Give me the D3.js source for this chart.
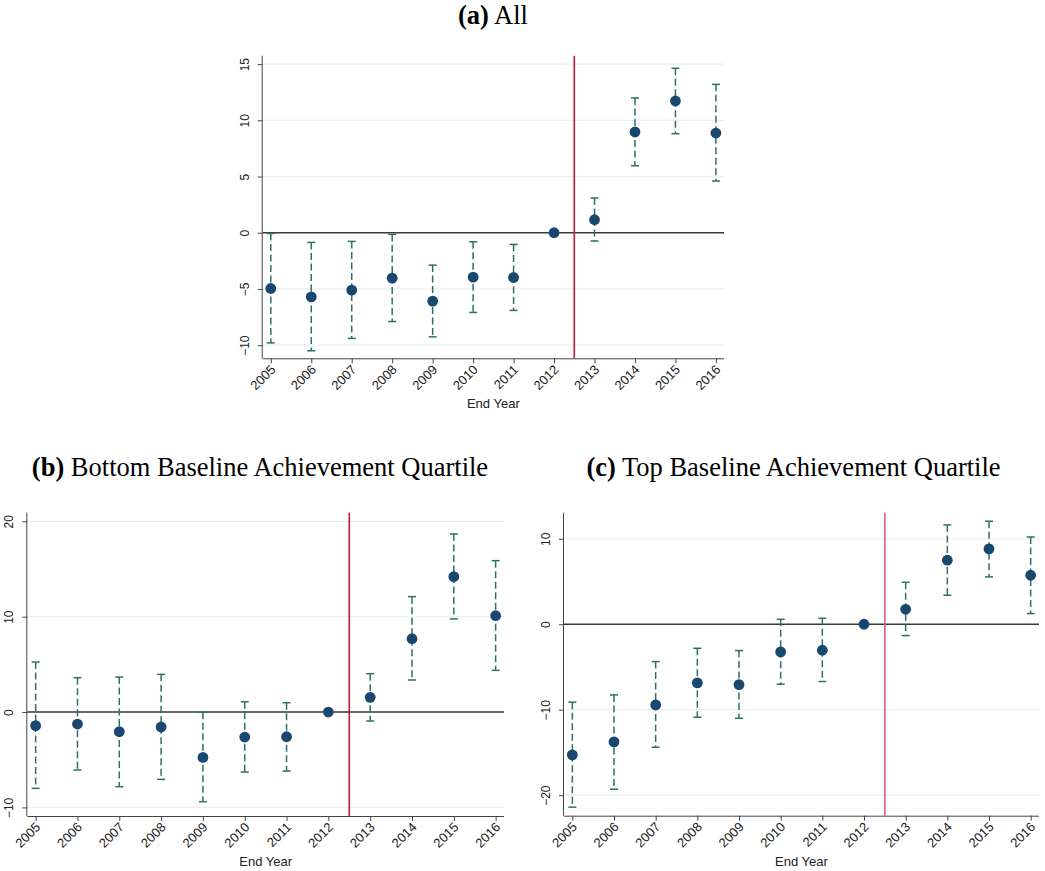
<!DOCTYPE html>
<html lang="en">
<head>
<meta charset="utf-8">
<title>Event study by end year</title>
<script src="https://d3js.org/d3.v7.min.js"></script>
<style>
	body { margin: 0; background: #fff; }
	svg { display: block; }
	.tick text { font-family: "Liberation Sans", Arial, sans-serif; font-size: 12px; fill: #222; }
	.x-ax .tick text { font-size: 13px; }
	.title { font-family: "Liberation Serif", "Times New Roman", serif; font-size: 26.5px; fill: #000; }
	.xlab { font-family: "Liberation Sans", Arial, sans-serif; font-size: 13px; fill: #222; }
</style>
</head>
<body>
<svg id="chart" width="1045" height="871"></svg>
<script>
	// end years on the x axis, 2012 is the omitted reference year
	var years = [2005, 2006, 2007, 2008, 2009, 2010, 2011, 2012, 2013, 2014, 2015, 2016];

	// (a) All
	var allCoef = [-4.96, -5.70, -5.10, -4.04, -6.08, -3.95, -3.98, 0, 1.16, 8.96, 11.72, 8.87];
	var allLow  = [-9.80, -10.50, -9.40, -7.90, -9.26, -7.09, -6.91, null, -0.74, 5.96, 8.81, 4.60];
	var allHigh = [-0.06, -0.86, -0.77, -0.15, -2.88, -0.80, -1.04, null, 3.09, 11.99, 14.63, 13.20];

	// (b) Bottom baseline achievement quartile
	var botCoef = [-1.43, -1.26, -2.06, -1.57, -4.76, -2.62, -2.59, 0, 1.54, 7.69, 14.20, 10.10];
	var botLow  = [-8.00, -6.08, -7.83, -7.06, -9.40, -6.29, -6.19, null, -0.94, 3.36, 9.76, 4.37];
	var botHigh = [5.24, 3.60, 3.67, 3.95, -0.03, 1.08, 0.98, null, 4.02, 12.10, 18.67, 15.87];

	// (c) Top baseline achievement quartile
	var topCoef = [-15.28, -13.76, -9.43, -6.86, -7.06, -3.24, -3.04, 0, 1.75, 7.49, 8.81, 5.73];
	var topLow  = [-21.40, -19.30, -14.39, -10.88, -11.00, -7.02, -6.70, null, -1.33, 3.39, 5.54, 1.25];
	var topHigh = [-9.12, -8.27, -4.37, -2.81, -3.08, 0.58, 0.70, null, 4.91, 11.62, 12.05, 10.21];

	var allTicks = [-10, -5, 0, 5, 10, 15];
	var botTicks = [-10, 0, 10, 20];
	var topTicks = [-20, -10, 0, 10];

	var treatLine = 2012.5;

	function rows(coef, low, high) {
		return years.map((y, i) => ({year: y, b: coef[i], lo: low[i], hi: high[i]}));
	}

	var panels = [
		{tag: "(a)", name: " All", data: rows(allCoef, allLow, allHigh), ticks: allTicks,
			yDom: [-11.17, 15.75], box: {l: 262.7, r: 724, t: 55.7, b: 358.3}, titleX: 493, titleY: 24, redCol: "#c8173f"},
		{tag: "(b)", name: " Bottom Baseline Achievement Quartile", data: rows(botCoef, botLow, botHigh), ticks: botTicks,
			yDom: [-10.9, 20.9], box: {l: 27.3, r: 504, t: 512.7, b: 816}, titleX: 260, titleY: 476, redCol: "#c8173f"},
		{tag: "(c)", name: " Top Baseline Achievement Quartile", data: rows(topCoef, topLow, topHigh), ticks: topTicks,
			yDom: [-22.4, 13.05], box: {l: 564, r: 1039, t: 512.7, b: 815.7}, titleX: 793.5, titleY: 476, redCol: "#d9607e"}
	];

	var svg = d3.select("#chart");
	var ciColor = "#2e7068";
	var dotColor = "#1a476f";

	panels.forEach(function(p) {
		var bx = p.box;
		var xScale = d3.scaleLinear().domain([2004.8, 2016.2]).range([bx.l, bx.r]);
		var yScale = d3.scaleLinear().domain(p.yDom).range([bx.b, bx.t]);
		var g = svg.append("g");

		// title
		var t = g.append("text")
			.attr("class", "title")
			.attr("x", p.titleX)
			.attr("y", p.titleY)
			.attr("text-anchor", "middle");
		t.append("tspan").attr("font-weight", "bold").text(p.tag);
		t.append("tspan").text(p.name);

		// light grid
		g.selectAll(".grid")
			.data(p.ticks)
			.enter()
			.append("line")
			.attr("x1", bx.l)
			.attr("x2", bx.r)
			.attr("y1", d => yScale(d))
			.attr("y2", d => yScale(d))
			.attr("stroke", "#e8f0f0")
			.attr("stroke-width", 1.2);

		// zero line
		g.append("line")
			.attr("x1", bx.l)
			.attr("x2", bx.r)
			.attr("y1", yScale(0))
			.attr("y2", yScale(0))
			.attr("stroke", "#3a3a3a")
			.attr("stroke-width", 1.5);

		// policy line
		g.append("line")
			.attr("x1", xScale(treatLine))
			.attr("x2", xScale(treatLine))
			.attr("y1", bx.t)
			.attr("y2", bx.b)
			.attr("stroke", p.redCol)
			.attr("stroke-width", 1.6);

		// confidence intervals
		var ci = g.selectAll(".ci")
			.data(p.data.filter(d => d.lo !== null))
			.enter()
			.append("g")
			.attr("stroke", ciColor)
			.attr("fill", "none");
		ci.append("line")
			.attr("x1", d => xScale(d.year))
			.attr("x2", d => xScale(d.year))
			.attr("y1", d => yScale(d.hi))
			.attr("y2", d => yScale(d.lo))
			.attr("stroke-width", 1.5)
			.attr("stroke-dasharray", "7,3.5");
		ci.append("line")
			.attr("x1", d => xScale(d.year) - 4)
			.attr("x2", d => xScale(d.year) + 4)
			.attr("y1", d => yScale(d.hi))
			.attr("y2", d => yScale(d.hi))
			.attr("stroke-width", 1.5);
		ci.append("line")
			.attr("x1", d => xScale(d.year) - 4)
			.attr("x2", d => xScale(d.year) + 4)
			.attr("y1", d => yScale(d.lo))
			.attr("y2", d => yScale(d.lo))
			.attr("stroke-width", 1.5);

		// point estimates
		g.selectAll(".dot")
			.data(p.data)
			.enter()
			.append("circle")
			.attr("cx", d => xScale(d.year))
			.attr("cy", d => yScale(d.b))
			.attr("r", 5.4)
			.attr("fill", dotColor);

		// axes
		var xAxis = d3.axisBottom(xScale).tickValues(years).tickFormat(d3.format("d")).tickSize(5).tickSizeOuter(0);
		var yAxis = d3.axisLeft(yScale).tickValues(p.ticks).tickSize(5).tickSizeOuter(0);

		var xg = g.append("g")
			.attr("class", "x-ax")
			.attr("transform", "translate(0," + bx.b + ")")
			.call(xAxis);
		xg.select(".domain").attr("stroke", "#444").attr("d", "M" + bx.l + ",0.5H" + bx.r);
		xg.selectAll(".tick line").attr("stroke", "#444");
		xg.selectAll(".tick text")
			.attr("text-anchor", "end")
			.attr("dy", null)
			.attr("y", 0)
			.attr("transform", "translate(5,12) rotate(-45)");

		var yg = g.append("g")
			.attr("transform", "translate(" + bx.l + ",0)")
			.call(yAxis);
		yg.select(".domain").attr("stroke", "#444").attr("d", "M-0.5," + bx.t + "V" + bx.b);
		yg.selectAll(".tick line").attr("stroke", "#444");
		yg.selectAll(".tick text")
			.attr("text-anchor", "middle")
			.attr("x", null)
			.attr("dy", null)
			.attr("transform", "translate(-14,0) rotate(-90)")
			.attr("y", 0);

		g.append("text")
			.attr("class", "xlab")
			.attr("x", (bx.l + bx.r) / 2)
			.attr("y", bx.b + 50)
			.attr("text-anchor", "middle")
			.text("End Year");
	});
</script>
</body>
</html>
